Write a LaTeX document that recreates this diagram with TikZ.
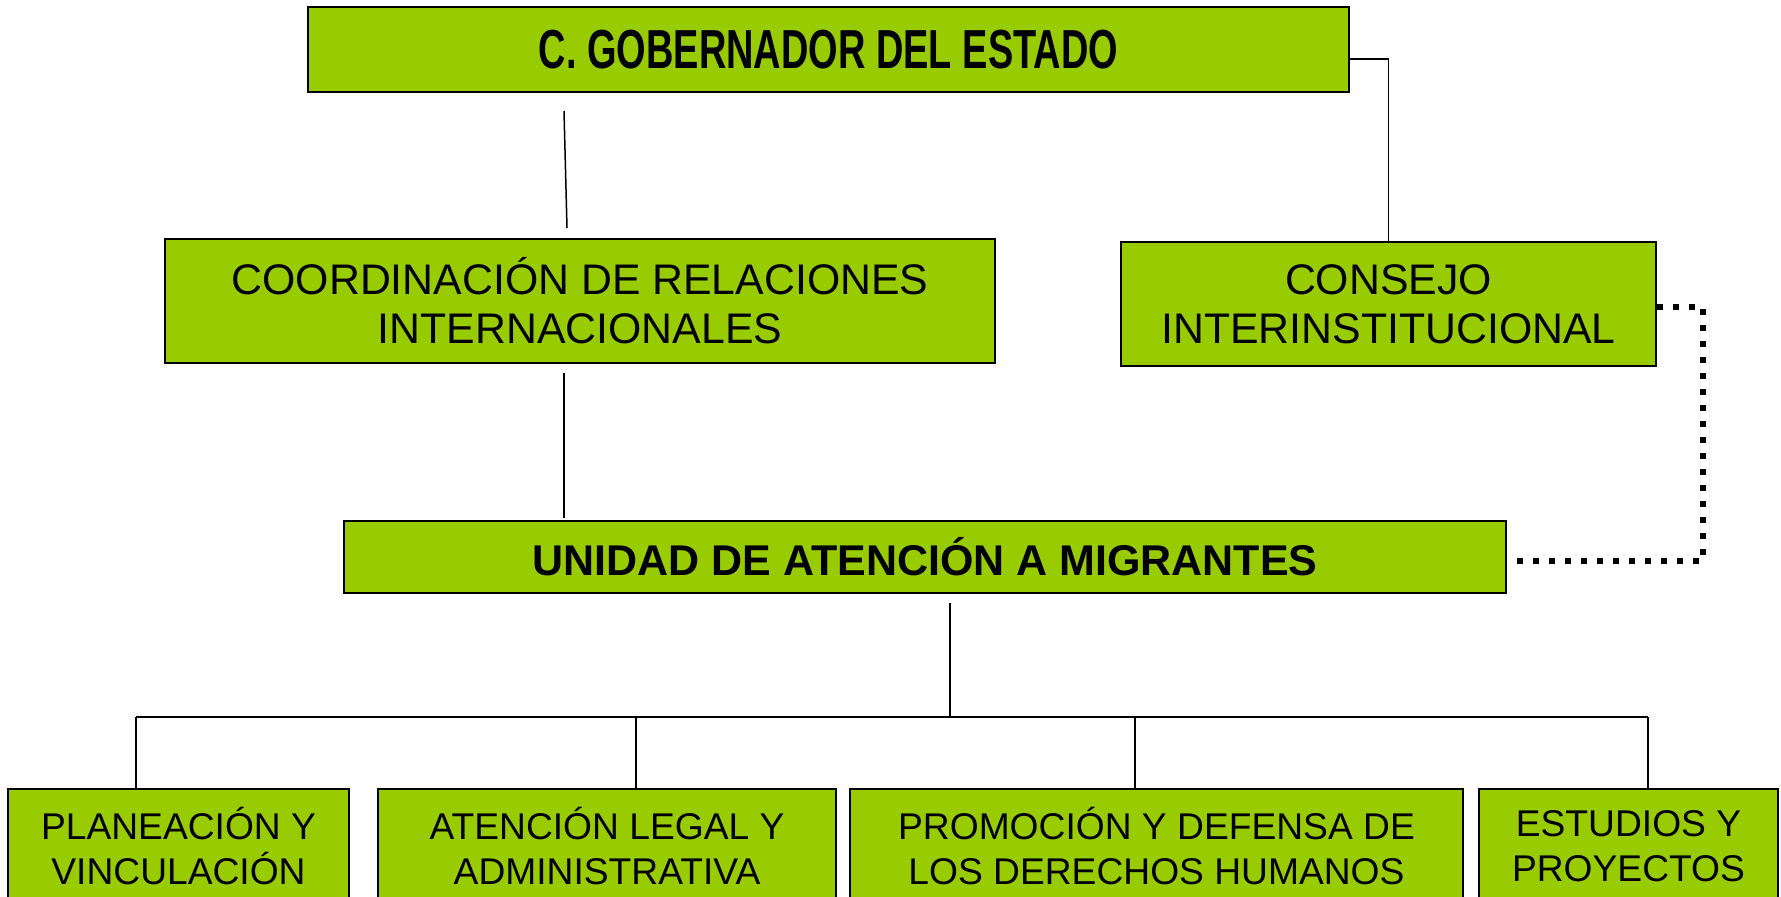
\documentclass[tikz,border=0pt]{standalone}
\usepackage{fontspec}
\setmainfont{Liberation Sans}
\newfontfamily\condfont[FakeStretch=0.69]{Liberation Sans}
\definecolor{leaf}{HTML}{99CC00}

\begin{document}
\begin{tikzpicture}[x=1pt,y=-1pt,
    orgbox/.style={draw=black,line width=2pt,fill=leaf,inner sep=0pt,align=center,
      font=\fontsize{42.8}{49}\selectfont},
    lowbox/.style={orgbox,minimum height=114pt,font=\fontsize{37.2}{45}\selectfont},
    link/.style={line width=1.5pt},
    dotlink/.style={line width=6pt,dash pattern=on 6pt off 10pt}]
    \useasboundingbox (0,0) rectangle (1781,897);

    % Governor
    \node[orgbox,minimum width=1041pt,minimum height=85pt,
      font=\condfont\bfseries\fontsize{55}{60}\selectfont] (gob) at (828.5,49.5) {C. GOBERNADOR DEL ESTADO};

    % Second level
    \node[orgbox,minimum width=830pt,minimum height=124pt] (coord) at (580,301)
      {COORDINACIÓN DE RELACIONES\\INTERNACIONALES};
    \node[orgbox,minimum width=535pt,minimum height=124pt] (consejo) at (1388.5,304)
      {CONSEJO\\INTERINSTITUCIONAL};

    % Unit
    \node[orgbox,minimum width=1162pt,minimum height=72pt,
      font=\bfseries\fontsize{43}{49}\selectfont] (unidad) at (925,556.5) {UNIDAD DE ATENCIÓN A MIGRANTES};

    % Departments
    \node[lowbox,minimum width=341pt] (plan) at (178.5,846) {PLANEACIÓN Y\\VINCULACIÓN};
    \node[lowbox,minimum width=458pt] (legal) at (607,846) {ATENCIÓN LEGAL Y\\ADMINISTRATIVA};
    \node[lowbox,minimum width=613pt] (ddhh) at (1156.5,846) {PROMOCIÓN Y DEFENSA DE\\LOS DERECHOS HUMANOS};
    \node[lowbox,minimum width=299pt] (estudios) at (1628.5,846) {ESTUDIOS Y\\PROYECTOS};

    % Lines
    \draw[link] ([yshift=-9.5pt]gob.east) -| (consejo.north);
    \coordinate (gobfoot) at (564,111);
    \coordinate (coordhead) at (567,228);
    \draw[link] (gobfoot) -- (coordhead);
    \coordinate (coordfoot) at (564,373);
    \coordinate (unidadhead) at (564,518);
    \draw[link] (coordfoot) -- (unidadhead);
    \coordinate (unidadfoot) at (950,603);
    \coordinate (fork) at (950,717);
    \draw[link] (unidadfoot) -- (fork);

    \coordinate (d1) at (136,717);
    \coordinate (d2) at (636,717);
    \coordinate (d3) at (1135,717);
    \coordinate (d4) at (1648,717);
    \draw[link] (d1) -- (d4);
    \foreach \d/\b in {d1/plan,d2/legal,d3/ddhh,d4/estudios}
      \draw[link] (\d) -- (\d |- \b.north);

    % Dotted tie
    \coordinate (dotend) at (1514,561);
    \draw[dotlink] ([yshift=-3pt]consejo.east) -- ++(46,0) |- (dotend);
\end{tikzpicture}
\end{document}
